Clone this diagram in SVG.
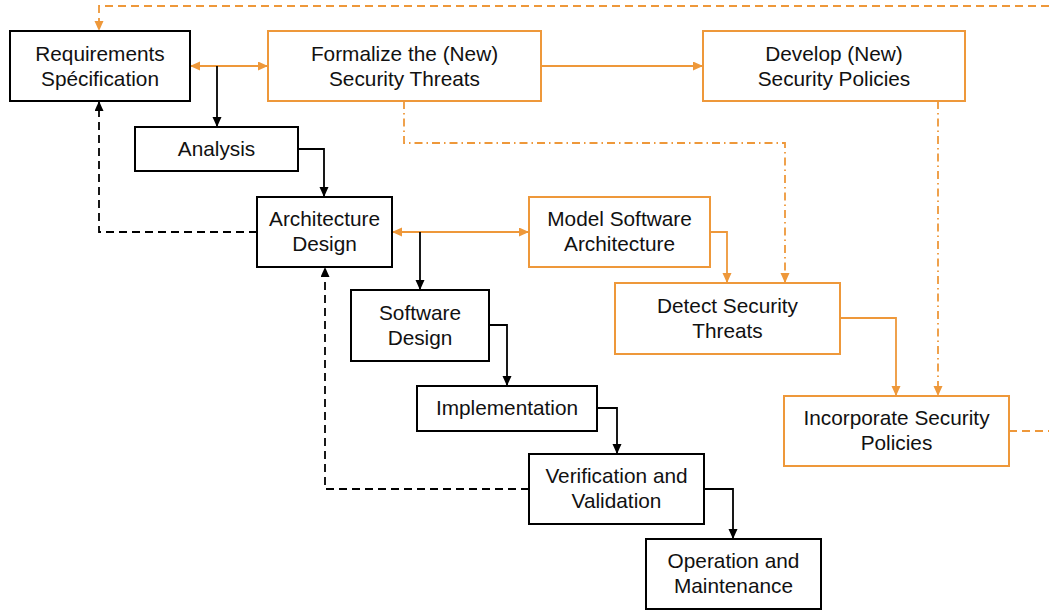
<svg xmlns="http://www.w3.org/2000/svg" width="1049" height="612" viewBox="0 0 1049 612">
<style>
.box{fill:#fff;stroke:#000;stroke-width:2}
.obox{fill:#fff;stroke:#EE983A;stroke-width:2}
text{font-family:"Liberation Sans",Arial,sans-serif;font-size:20.8px;fill:#111;text-anchor:middle}
.c{fill:none;stroke:#000;stroke-width:1.8}
.oc{fill:none;stroke:#EE983A;stroke-width:1.8}
.dash{stroke-dasharray:8 5}
.dd{stroke-dasharray:8 4 1.5 4}
</style>
<defs>
<marker id="ab" markerUnits="userSpaceOnUse" markerWidth="11" markerHeight="10" refX="10" refY="4.5" orient="auto-start-reverse"><path d="M0,0 L10,4.5 L0,9 z" fill="#000"/></marker>
<marker id="ao" markerUnits="userSpaceOnUse" markerWidth="11" markerHeight="10" refX="10" refY="4.5" orient="auto-start-reverse"><path d="M0,0 L10,4.5 L0,9 z" fill="#EE983A"/></marker>
</defs>
<rect width="1049" height="612" fill="#fff"/>
<g id="connectors">
<path class="oc dash" d="M1049,6 H99 V31" marker-end="url(#ao)"/>
<path class="oc dash" d="M1009,431 H1049"/>
<path class="oc" d="M190,66 H268" marker-start="url(#ao)" marker-end="url(#ao)"/>
<path class="c" d="M217,66 V127" marker-end="url(#ab)"/>
<path class="oc" d="M541,66 H703" marker-end="url(#ao)"/>
<path class="c" d="M298,149 H324 V197" marker-end="url(#ab)"/>
<path class="c dash" d="M257,232 H99 V101" marker-end="url(#ab)"/>
<path class="oc" d="M392,232 H529" marker-start="url(#ao)" marker-end="url(#ao)"/>
<path class="c" d="M420,232 V290" marker-end="url(#ab)"/>
<path class="oc" d="M710,232 H727 V283" marker-end="url(#ao)"/>
<path class="oc dd" d="M404,101 V143 H785 V283" marker-end="url(#ao)"/>
<path class="oc dd" d="M938,101 V396" marker-end="url(#ao)"/>
<path class="oc" d="M840,318 H896 V396" marker-end="url(#ao)"/>
<path class="c" d="M489,325 H507 V386" marker-end="url(#ab)"/>
<path class="c" d="M597,408 H617 V454" marker-end="url(#ab)"/>
<path class="c" d="M704,489 H733 V539" marker-end="url(#ab)"/>
<path class="c dash" d="M529,489 H325 V267" marker-end="url(#ab)"/>
</g>
<g id="req"><rect class="box" x="10" y="31" width="180" height="70"/><text x="100" y="61">Requirements</text><text x="100" y="86">Spécification</text></g>
<g id="formalize"><rect class="obox" x="268" y="31" width="273" height="70"/><text x="404.5" y="61">Formalize the (New)</text><text x="404.5" y="86">Security Threats</text></g>
<g id="develop"><rect class="obox" x="703" y="31" width="262" height="70"/><text x="834" y="61">Develop (New)</text><text x="834" y="86">Security Policies</text></g>
<g id="analysis"><rect class="box" x="135" y="127" width="163" height="44"/><text x="216.5" y="156">Analysis</text></g>
<g id="arch"><rect class="box" x="257" y="197" width="135" height="70"/><text x="324.5" y="226">Architecture</text><text x="324.5" y="251">Design</text></g>
<g id="model"><rect class="obox" x="529" y="197" width="181" height="70"/><text x="619.5" y="226">Model Software</text><text x="619.5" y="251">Architecture</text></g>
<g id="swdesign"><rect class="box" x="351" y="290" width="138" height="71"/><text x="420" y="320">Software</text><text x="420" y="345">Design</text></g>
<g id="detect"><rect class="obox" x="615" y="283" width="225" height="71"/><text x="727.5" y="313">Detect Security</text><text x="727.5" y="338">Threats</text></g>
<g id="incorporate"><rect class="obox" x="784" y="396" width="225" height="70"/><text x="896.5" y="425">Incorporate Security</text><text x="896.5" y="450">Policies</text></g>
<g id="impl"><rect class="box" x="417" y="386" width="180" height="45"/><text x="507" y="415">Implementation</text></g>
<g id="verif"><rect class="box" x="529" y="454" width="175" height="70"/><text x="616.5" y="483">Verification and</text><text x="616.5" y="508">Validation</text></g>
<g id="operation"><rect class="box" x="646" y="539" width="175" height="70"/><text x="733.5" y="568">Operation and</text><text x="733.5" y="593">Maintenance</text></g>
</svg>
